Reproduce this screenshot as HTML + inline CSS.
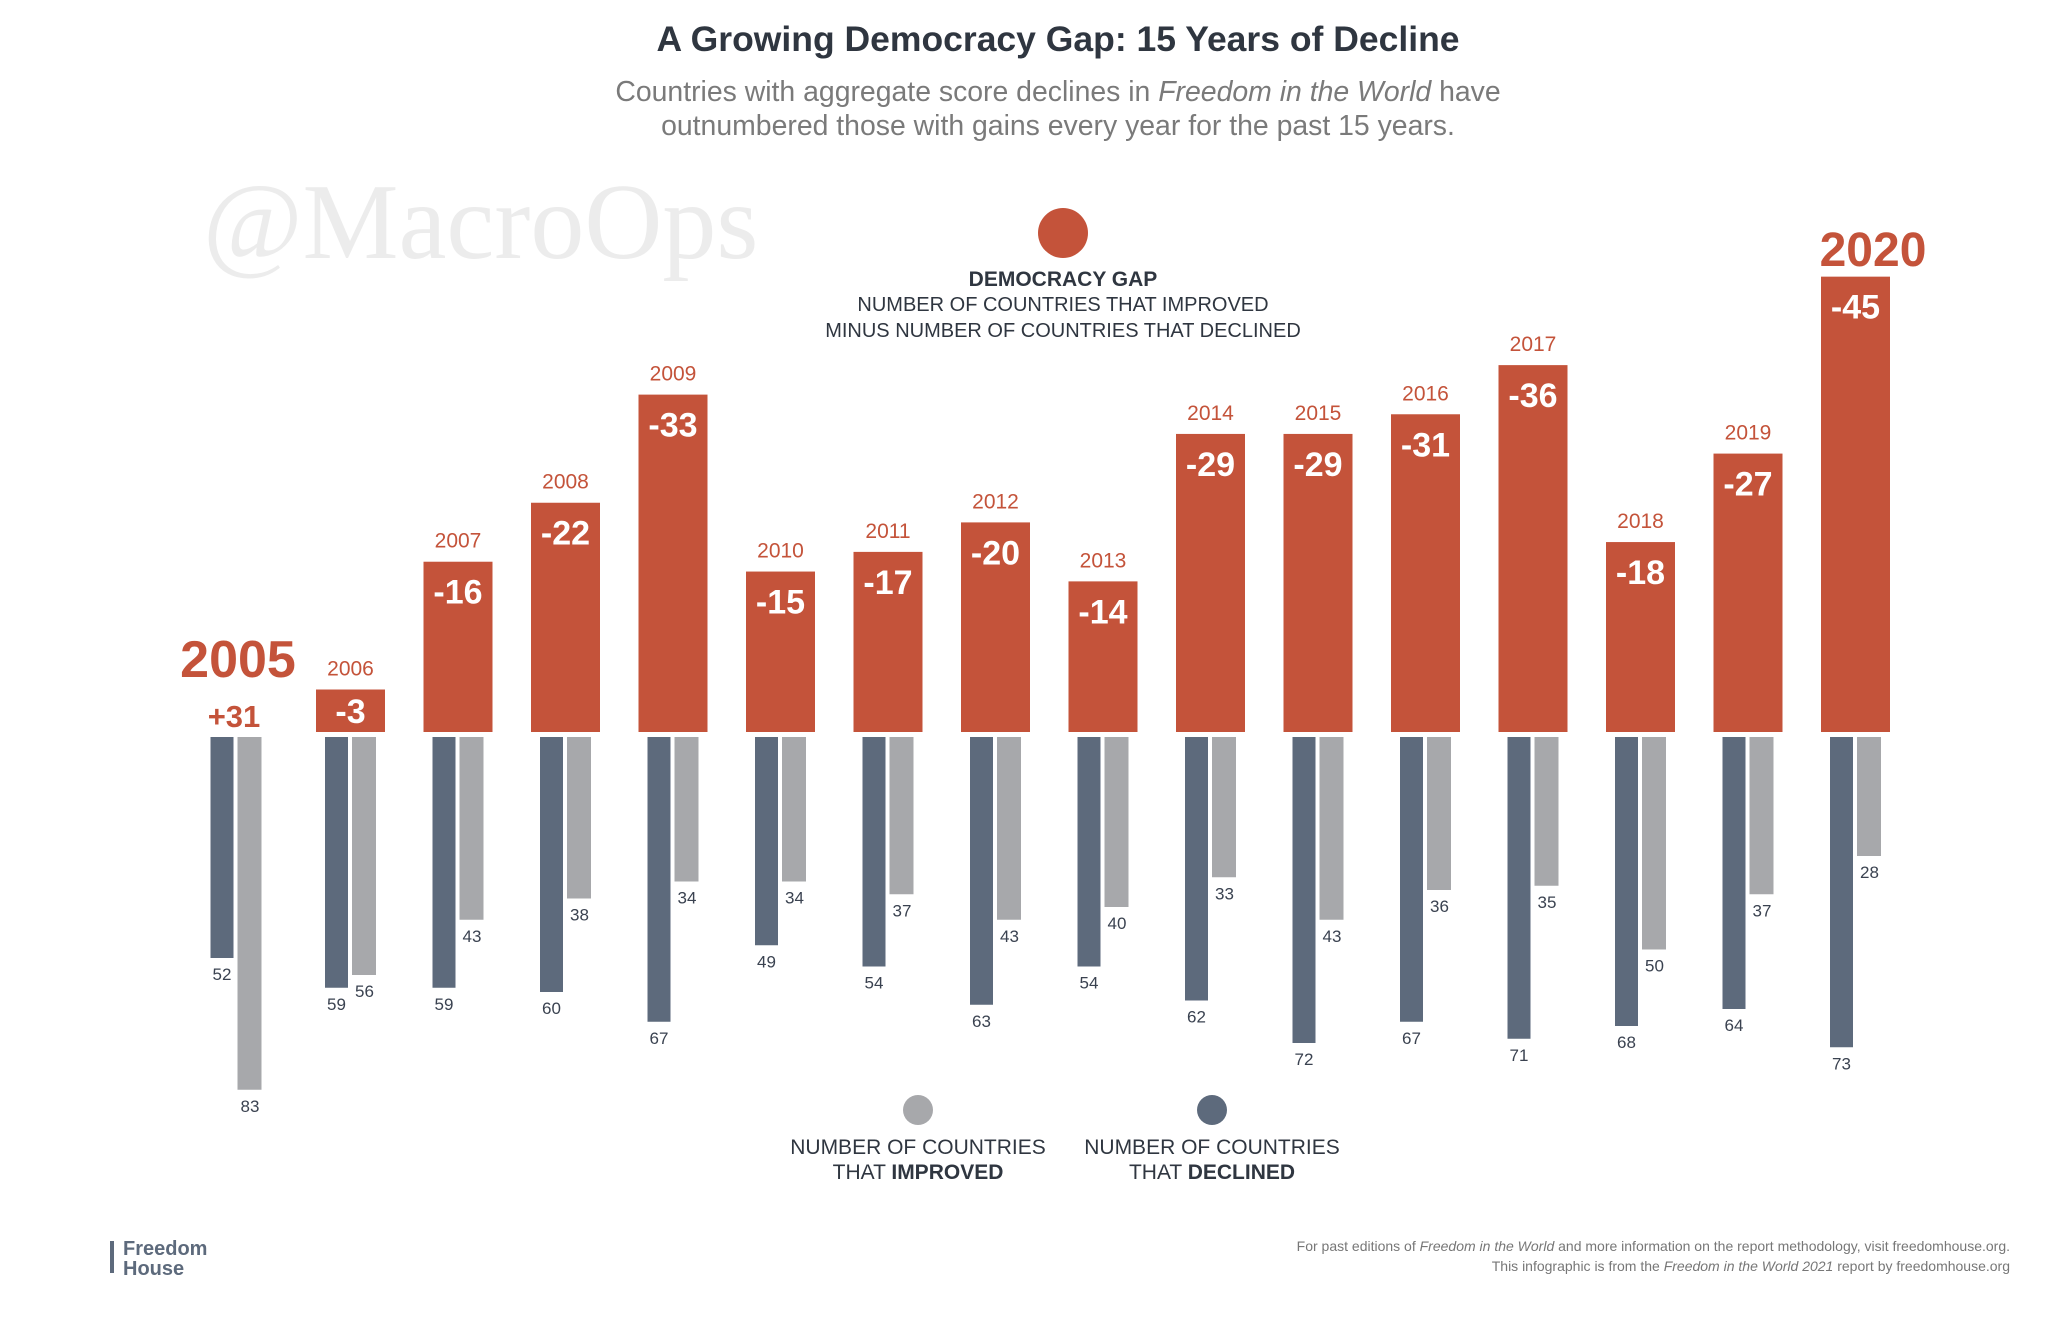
<!DOCTYPE html>
<html><head><meta charset="utf-8"><style>
body{margin:0;background:#fff;}
svg{display:block;font-family:"Liberation Sans",sans-serif;}
</style></head><body>
<svg width="2048" height="1331" viewBox="0 0 2048 1331">
<text x="1058" y="51" text-anchor="middle" font-size="35.5" font-weight="bold" fill="#2f3640">A Growing Democracy Gap: 15 Years of Decline</text>
<text x="1058" y="101" text-anchor="middle" font-size="28.4" fill="#7a7a7a">Countries with aggregate score declines in <tspan font-style="italic">Freedom in the World</tspan> have</text>
<text x="1058" y="135" text-anchor="middle" font-size="28.4" fill="#7a7a7a">outnumbered those with gains every year for the past 15 years.</text>
<text x="203" y="258" font-family="Liberation Serif,serif" font-size="108" fill="#ececec">@MacroOps</text>
<circle cx="1063" cy="233" r="25" fill="#c4533a"/>
<text x="1063" y="286" text-anchor="middle" font-size="21" font-weight="bold" fill="#2f3640">DEMOCRACY GAP</text>
<text x="1063" y="311" text-anchor="middle" font-size="20" fill="#2f3640">NUMBER OF COUNTRIES THAT IMPROVED</text>
<text x="1063" y="337" text-anchor="middle" font-size="20" fill="#2f3640">MINUS NUMBER OF COUNTRIES THAT DECLINED</text>
<g id="bars"></g>
<text x="238" y="677" text-anchor="middle" font-size="52" font-weight="bold" fill="#c4533a">2005</text>
<text x="234" y="727" text-anchor="middle" font-size="31" font-weight="bold" fill="#c4533a">+31</text>
<text x="1873" y="266" text-anchor="middle" font-size="48" font-weight="bold" fill="#c4533a">2020</text>
<circle cx="918" cy="1110" r="15" fill="#a7a8ab"/>
<circle cx="1212" cy="1110" r="15" fill="#5d6a7c"/>
<text x="918" y="1154" text-anchor="middle" font-size="21" fill="#2f3640">NUMBER OF COUNTRIES</text>
<text x="918" y="1179" text-anchor="middle" font-size="21" fill="#2f3640">THAT <tspan font-weight="bold">IMPROVED</tspan></text>
<text x="1212" y="1154" text-anchor="middle" font-size="21" fill="#2f3640">NUMBER OF COUNTRIES</text>
<text x="1212" y="1179" text-anchor="middle" font-size="21" fill="#2f3640">THAT <tspan font-weight="bold">DECLINED</tspan></text>
<text x="123" y="1255" font-size="20" font-weight="bold" fill="#5d6a7c">Freedom</text>
<text x="123" y="1275" font-size="20" font-weight="bold" fill="#5d6a7c">House</text>
<rect x="110" y="1241" width="4" height="32" fill="#5d6a7c"/>
<text x="2010" y="1251" text-anchor="end" font-size="14" fill="#777">For past editions of <tspan font-style="italic">Freedom in the World</tspan> and more information on the report methodology, visit freedomhouse.org.</text>
<text x="2010" y="1271" text-anchor="end" font-size="14" fill="#777">This infographic is from the <tspan font-style="italic">Freedom in the World 2021</tspan> report by freedomhouse.org</text>
</svg>
<script>
const years=[2005,2006,2007,2008,2009,2010,2011,2012,2013,2014,2015,2016,2017,2018,2019,2020];
const gap=[31,-3,-16,-22,-33,-15,-17,-20,-14,-29,-29,-31,-36,-18,-27,-45];
const declined=[52,59,59,60,67,49,54,63,54,62,72,67,71,68,64,73];
const improved=[83,56,43,38,34,34,37,43,40,33,43,36,35,50,37,28];
const NS="http://www.w3.org/2000/svg";
const g=document.getElementById('bars');
const base=732, lowBase=737;
function xc(i){return i===0?236:350.5+(i-1)*107.5;}
function gapH(v){return 13+9.83*Math.abs(v);}
function countH(v){return 4.25*v;}
function mk(tag,attrs,txt){const e=document.createElementNS(NS,tag);for(const k in attrs)e.setAttribute(k,attrs[k]);if(txt!==undefined)e.textContent=txt;g.appendChild(e);return e;}
years.forEach((y,i)=>{
  const c=xc(i);
  if(gap[i]<0){
    const h=gapH(gap[i]);
    const r=mk('rect',{x:c-34.5,y:base-h,width:69,height:h,fill:'#c4533a'});
    
    
    const ty=Math.min(base-h+42, base-h/2+12);
    const v=mk('text',{x:c,y:ty,'text-anchor':'middle','font-size':34,'font-weight':'bold',fill:'#fff'},String(gap[i]));
    
    
    if(i<years.length-1){
      const t=mk('text',{x:c,y:base-h-14,'text-anchor':'middle','font-size':21,fill:'#c4533a'},String(y));
      
      
    }
  }
  const hd=countH(declined[i]);
  const d=mk('rect',{x:c-25.5,y:lowBase,width:23,height:hd,fill:'#5d6a7c'});
  
  
  const dl=mk('text',{x:c-14,y:lowBase+hd+22,'text-anchor':'middle','font-size':17,fill:'#3a4250'},String(declined[i]));
  
  
  const hi=countH(improved[i]);
  const m=mk('rect',{x:c+1.5,y:lowBase,width:24,height:hi,fill:'#a7a8ab'});
  
  
  const ml=mk('text',{x:c+14,y:lowBase+hi+22,'text-anchor':'middle','font-size':17,fill:'#3a4250'},String(improved[i]));
  
  
});
</script>
</body></html>
